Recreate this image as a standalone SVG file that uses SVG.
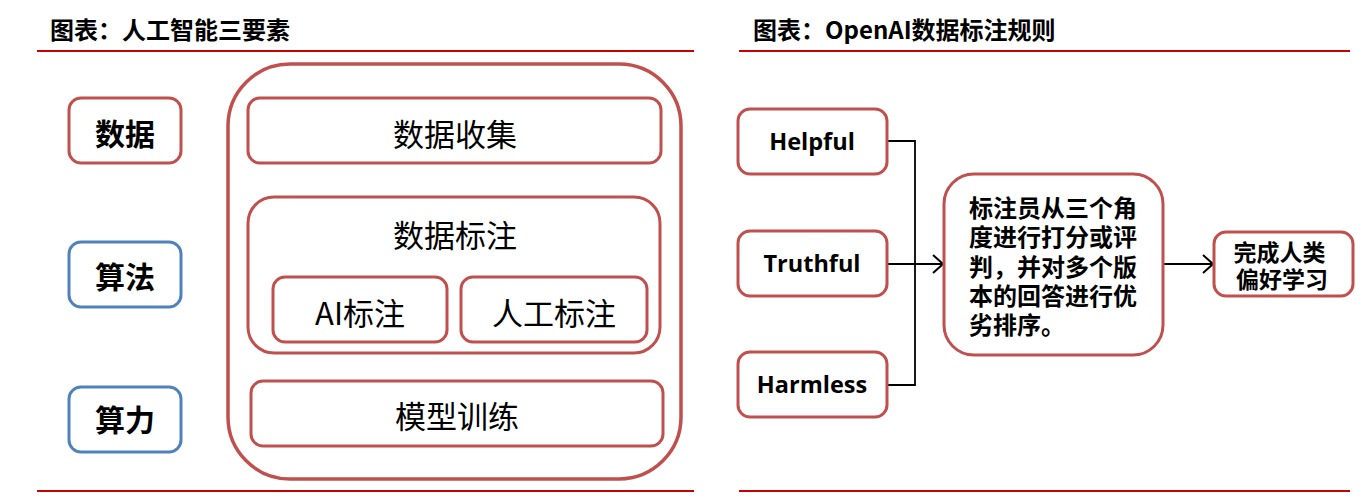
<svg xmlns="http://www.w3.org/2000/svg" width="1368" height="500" viewBox="0 0 1368 500">
<defs>
<style>
.t{font-family:"Noto Sans CJK SC","Noto Sans",sans-serif;fill:#000}
.title{font-size:24px;font-weight:bold}
.rb{fill:#fff;stroke:#C0504D;stroke-width:3}
.bb{fill:#fff;stroke:#4F81BD;stroke-width:3}
.rule{stroke:#C80000;stroke-width:2}
.big{font-size:30px;font-weight:bold}
.norm{font-size:31px}
.en{font-family:"Open Sans","Noto Sans",sans-serif;font-size:23.5px;font-weight:bold;fill:#000}
.mid{font-size:24px;font-weight:bold}
.res{font-size:23px;font-weight:bold}
.conn{fill:none;stroke:#000;stroke-width:1.8}
</style>
<marker id="arr" viewBox="0 0 12 20" refX="11" refY="10" markerWidth="12" markerHeight="20" markerUnits="userSpaceOnUse" orient="auto">
<path d="M1,1 L11,10 L1,19" fill="none" stroke="#000" stroke-width="2"/>
</marker>
</defs>
<rect width="1368" height="500" fill="#fff"/>

<g id="titles">
<text class="t title" x="50" y="39">图表：人工智能三要素</text>
<text class="t title" x="753" y="39">图表：OpenAI数据标注规则</text>
<line class="rule" x1="37" y1="51" x2="694" y2="51"/>
<line class="rule" x1="739" y1="51" x2="1350" y2="51"/>
<line class="rule" x1="37" y1="491" x2="694" y2="491"/>
<line class="rule" x1="739" y1="491" x2="1350" y2="491"/>
</g>

<g id="n-data">
<rect class="rb" x="69" y="98" width="112" height="65" rx="12"/>
<text class="t big" x="125" y="132" text-anchor="middle" dominant-baseline="central">数据</text>
</g>
<g id="n-algo">
<rect class="bb" x="69" y="242" width="112" height="65" rx="12"/>
<text class="t big" x="125" y="275" text-anchor="middle" dominant-baseline="central">算法</text>
</g>
<g id="n-compute">
<rect class="bb" x="69" y="387" width="112" height="65" rx="12"/>
<text class="t big" x="125" y="418" text-anchor="middle" dominant-baseline="central">算力</text>
</g>

<g id="n-outer">
<rect x="228" y="64" width="453" height="415" rx="62" fill="none" stroke="#C0504D" stroke-width="3.5"/>
</g>
<g id="n-collect">
<rect class="rb" x="248" y="98" width="413" height="65" rx="12"/>
<text class="t norm" x="455" y="132" text-anchor="middle" dominant-baseline="central">数据收集</text>
</g>
<g id="n-label">
<rect class="rb" x="248" y="197" width="412" height="156" rx="26"/>
<text class="t norm" x="455" y="233" text-anchor="middle" dominant-baseline="central">数据标注</text>
</g>
<g id="n-ai">
<rect class="rb" x="273" y="277" width="174" height="65" rx="12"/>
<text class="t norm" x="360" y="311" text-anchor="middle" dominant-baseline="central">AI标注</text>
</g>
<g id="n-human">
<rect class="rb" x="461" y="277" width="186" height="65" rx="12"/>
<text class="t norm" x="554" y="311" text-anchor="middle" dominant-baseline="central">人工标注</text>
</g>
<g id="n-train">
<rect class="rb" x="251" y="381" width="412" height="65" rx="12"/>
<text class="t norm" x="457" y="414" text-anchor="middle" dominant-baseline="central">模型训练</text>
</g>

<g id="connectors">
<polyline class="conn" points="887,141 915,141 915,385 887,385"/>
<line class="conn" x1="887" y1="264" x2="943" y2="264" marker-end="url(#arr)"/>
<line class="conn" x1="1163" y1="264" x2="1213" y2="264" marker-end="url(#arr)"/>
</g>

<g id="n-helpful">
<rect class="rb" x="738" y="109" width="149" height="65" rx="12"/>
<text class="en" x="812" y="141" text-anchor="middle" dominant-baseline="central">Helpful</text>
</g>
<g id="n-truthful">
<rect class="rb" x="738" y="231" width="149" height="65" rx="12"/>
<text class="en" x="812" y="263" text-anchor="middle" dominant-baseline="central">Truthful</text>
</g>
<g id="n-harmless">
<rect class="rb" x="738" y="352" width="149" height="65" rx="12"/>
<text class="en" x="812" y="384" text-anchor="middle" dominant-baseline="central">Harmless</text>
</g>
<g id="n-annotator">
<rect class="rb" x="944" y="174" width="219" height="181" rx="30"/>
<text class="t mid" x="969" dominant-baseline="central">
<tspan x="969" y="206">标注员从三个角</tspan>
<tspan x="969" y="235">度进行打分或评</tspan>
<tspan x="969" y="265">判，并对多个版</tspan>
<tspan x="969" y="294">本的回答进行优</tspan>
<tspan x="969" y="323">劣排序。</tspan>
</text>
</g>
<g id="n-result">
<rect class="rb" x="1214" y="232" width="139" height="64" rx="12"/>
<text class="t res" text-anchor="middle" dominant-baseline="central">
<tspan x="1282" y="251">完成人类</tspan>
<tspan x="1282" y="278">偏好学习</tspan>
</text>
</g>
</svg>
